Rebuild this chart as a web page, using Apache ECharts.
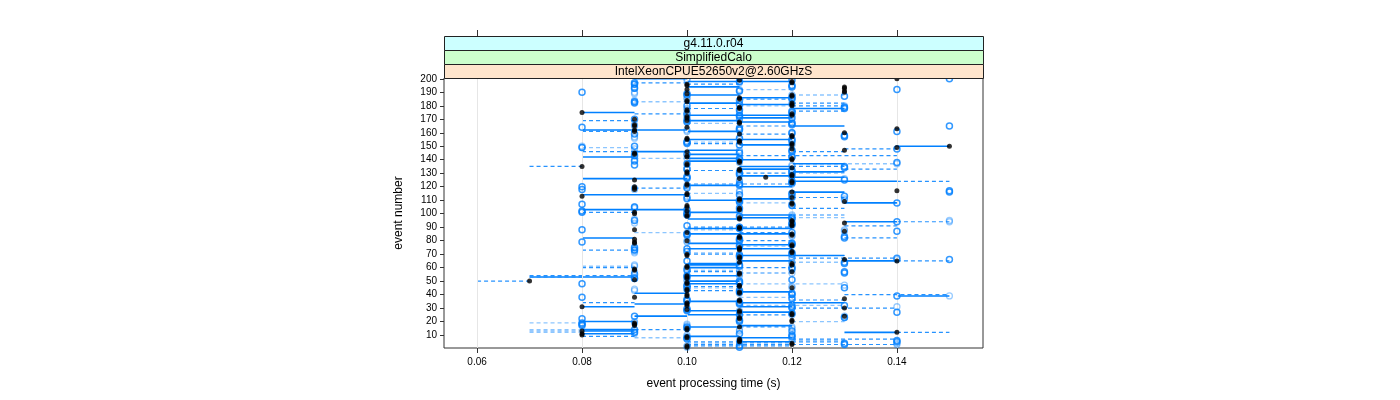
<!DOCTYPE html>
<html><head><meta charset="utf-8">
<script src="https://cdn.jsdelivr.net/npm/echarts@6/dist/echarts.min.js"></script>
<style>html,body{margin:0;padding:0;background:#fff}#c{width:1400px;height:400px}</style>
</head><body><div id="c"></div><script>
const stripLabels = ['g4.11.0.r04', 'SimplifiedCalo', 'IntelXeonCPUE52650v2@2.60GHzS'];
const xTicks = [0.06, 0.08, 0.10, 0.12, 0.14];
const yTicks = [10, 20, 30, 40, 50, 60, 70, 80, 90, 100, 110, 120, 130, 140, 150, 160, 170, 180, 190, 200];

// black filled points, one per event (event 1..200)
const timesBlack = [
0.10,0.10,0.12,0.12,0.11,0.11,0.11,0.10,0.10,0.08,
0.08,0.14,0.08,0.10,0.10,0.11,0.09,0.09,0.09,0.12,
0.12,0.11,0.11,0.13,0.12,0.12,0.11,0.11,0.10,0.13,
0.08,0.10,0.10,0.10,0.11,0.11,0.13,0.09,0.10,0.10,
0.11,0.11,0.10,0.10,0.12,0.11,0.11,0.10,0.10,0.07,
0.09,0.10,0.10,0.10,0.11,0.11,0.12,0.09,0.09,0.10,
0.10,0.12,0.12,0.11,0.14,0.13,0.11,0.11,0.10,0.10,
0.12,0.12,0.11,0.11,0.11,0.12,0.12,0.09,0.09,0.10,
0.09,0.11,0.11,0.12,0.12,0.10,0.13,0.09,0.11,0.11,
0.12,0.12,0.13,0.12,0.12,0.11,0.11,0.10,0.10,0.09,
0.09,0.10,0.11,0.11,0.10,0.10,0.12,0.12,0.13,0.11,
0.11,0.12,0.08,0.10,0.10,0.12,0.14,0.09,0.09,0.09,
0.10,0.10,0.12,0.12,0.09,0.11,0.115,0.12,0.12,0.10,
0.10,0.11,0.11,0.12,0.08,0.10,0.10,0.11,0.11,0.12,
0.12,0.10,0.10,0.09,0.09,0.10,0.13,0.12,0.14,0.15,
0.12,0.12,0.11,0.11,0.10,0.10,0.12,0.12,0.11,0.13,
0.09,0.09,0.14,0.10,0.09,0.09,0.11,0.11,0.10,0.09,
0.10,0.10,0.12,0.12,0.08,0.10,0.10,0.11,0.11,0.12,
0.12,0.12,0.10,0.10,0.11,0.11,0.12,0.12,0.10,0.13,
0.13,0.10,0.13,0.13,0.10,0.10,0.12,0.12,0.11,0.14];

// blue open circles, one per event
const timesBlue = [
0.11,0.11,0.13,0.13,0.14,0.14,0.10,0.10,0.12,0.12,
0.11,0.09,0.12,0.09,0.10,0.10,0.08,0.08,0.08,0.11,
0.11,0.08,0.13,0.09,0.11,0.12,0.14,0.10,0.10,0.12,
0.12,0.13,0.11,0.11,0.10,0.10,0.12,0.08,0.14,0.12,
0.12,0.11,0.11,0.10,0.13,0.10,0.10,0.08,0.11,0.11,
0.12,0.09,0.10,0.10,0.09,0.13,0.13,0.10,0.12,0.12,
0.11,0.11,0.13,0.13,0.10,0.15,0.14,0.11,0.11,0.12,
0.12,0.10,0.09,0.10,0.09,0.11,0.12,0.12,0.08,0.11,
0.11,0.13,0.13,0.10,0.10,0.12,0.14,0.08,0.11,0.11,
0.10,0.12,0.12,0.14,0.09,0.12,0.12,0.11,0.10,0.10,
0.08,0.08,0.10,0.11,0.09,0.12,0.08,0.14,0.11,0.11,
0.10,0.12,0.13,0.11,0.12,0.15,0.15,0.08,0.10,0.08,
0.11,0.11,0.12,0.12,0.13,0.10,0.10,0.12,0.11,0.11,
0.12,0.12,0.10,0.13,0.13,0.09,0.10,0.14,0.09,0.11,
0.11,0.12,0.09,0.10,0.11,0.12,0.12,0.14,0.08,0.09,
0.11,0.10,0.10,0.12,0.12,0.11,0.13,0.13,0.09,0.12,
0.14,0.11,0.11,0.08,0.15,0.12,0.12,0.10,0.10,0.09,
0.12,0.11,0.11,0.10,0.12,0.12,0.11,0.13,0.13,0.10,
0.11,0.09,0.09,0.11,0.12,0.12,0.13,0.10,0.10,0.08,
0.11,0.14,0.09,0.12,0.12,0.09,0.09,0.11,0.12,0.15];

// light blue open circles, one per event
const timesLight = [
0.10,0.10,0.14,0.14,0.11,0.11,0.12,0.12,0.10,0.10,
0.09,0.09,0.11,0.11,0.12,0.12,0.10,0.10,0.09,0.09,
0.11,0.11,0.13,0.13,0.12,0.12,0.11,0.11,0.10,0.10,
0.14,0.12,0.12,0.11,0.11,0.10,0.10,0.12,0.15,0.12,
0.11,0.11,0.09,0.09,0.12,0.12,0.13,0.11,0.11,0.10,
0.10,0.09,0.09,0.11,0.11,0.12,0.09,0.11,0.10,0.10,
0.09,0.09,0.12,0.12,0.11,0.14,0.12,0.12,0.11,0.11,
0.09,0.09,0.09,0.09,0.11,0.11,0.12,0.12,0.10,0.10,
0.11,0.11,0.12,0.12,0.10,0.10,0.13,0.13,0.11,0.11,
0.12,0.12,0.09,0.15,0.15,0.09,0.11,0.12,0.12,0.10,
0.10,0.11,0.11,0.09,0.09,0.12,0.12,0.11,0.11,0.13,
0.13,0.10,0.10,0.12,0.12,0.11,0.11,0.09,0.09,0.10,
0.10,0.12,0.12,0.11,0.11,0.13,0.10,0.10,0.12,0.12,
0.11,0.11,0.10,0.10,0.12,0.12,0.14,0.11,0.11,0.09,
0.10,0.12,0.12,0.09,0.09,0.11,0.11,0.09,0.08,0.08,
0.12,0.12,0.10,0.10,0.11,0.09,0.09,0.13,0.12,0.12,
0.10,0.10,0.11,0.11,0.09,0.09,0.12,0.12,0.11,0.11,
0.10,0.10,0.12,0.12,0.11,0.11,0.10,0.10,0.13,0.13,
0.12,0.12,0.09,0.09,0.10,0.10,0.12,0.12,0.09,0.09,
0.11,0.11,0.09,0.09,0.12,0.09,0.11,0.11,0.10,0.10];

// solid horizontal links: event, from time, to time
const solidEvent = [5,11,12,13,14,17,20,24,25,27,31,33,34,39,41,42,48,50,53,54,60,62,65,69,74,77,82,85,89,94,97,101,103,108,111,114,121,124,126,128,131,133,137,141,142,146,147,150,155,161,162,165,171,173,175,178,182,186,194,198,200,
  169,144,139,110,188,181,168,151,140,135,120,127,116,96,78,74,63,35,28,16,9,99,65,34,31,8];
const solidFrom  = [0.11,0.08,0.13,0.08,0.08,0.11,0.08,0.09,0.10,0.11,0.08,0.09,0.12,0.14,0.09,0.11,0.10,0.10,0.07,0.10,0.10,0.10,0.13,0.11,0.11,0.11,0.08,0.10,0.10,0.13,0.11,0.10,0.08,0.13,0.11,0.08,0.10,0.12,0.08,0.11,0.12,0.11,0.12,0.10,0.08,0.09,0.10,0.14,0.10,0.10,0.08,0.12,0.11,0.10,0.08,0.12,0.10,0.11,0.10,0.10,0.09,
  0.10,0.10,0.10,0.10,0.10,0.11,0.11,0.11,0.11,0.11,0.11,0.12,0.12,0.10,0.10,0.10,0.10,0.10,0.10,0.10,0.10,0.11,0.11,0.11,0.11,0.11];
const solidTo    = [0.12,0.09,0.14,0.09,0.09,0.12,0.09,0.10,0.11,0.12,0.09,0.10,0.13,0.15,0.10,0.12,0.11,0.11,0.09,0.11,0.11,0.11,0.14,0.13,0.12,0.12,0.09,0.12,0.12,0.14,0.12,0.11,0.10,0.14,0.12,0.10,0.11,0.14,0.10,0.12,0.13,0.12,0.13,0.11,0.09,0.10,0.11,0.15,0.12,0.11,0.10,0.13,0.12,0.12,0.09,0.13,0.11,0.12,0.11,0.12,0.10,
  0.11,0.11,0.11,0.11,0.11,0.12,0.12,0.12,0.12,0.12,0.12,0.13,0.13,0.11,0.11,0.11,0.11,0.11,0.11,0.11,0.11,0.12,0.12,0.12,0.12,0.12];

// dashed horizontal links
const dashEvent = [2,3,5,7,9,12,14,16,25,30,34,36,40,43,50,54,56,60,65,67,69,73,80,82,90,91,94,99,101,104,112,119,122,124,133,135,143,146,148,159,161,169,174,176,182,196,197,
  152,132,178,185,165,130,180,135,146,70,57,46,86,60];
const dashFrom  = [0.10,0.10,0.10,0.12,0.08,0.14,0.09,0.11,0.11,0.12,0.08,0.12,0.13,0.10,0.06,0.07,0.11,0.08,0.14,0.12,0.12,0.08,0.11,0.13,0.10,0.13,0.14,0.12,0.08,0.12,0.12,0.09,0.10,0.14,0.13,0.07,0.11,0.08,0.13,0.11,0.08,0.08,0.09,0.12,0.12,0.10,0.09,
  0.10,0.10,0.10,0.11,0.11,0.11,0.12,0.12,0.12,0.10,0.10,0.10,0.11,0.11];
const dashTo    = [0.12,0.14,0.13,0.14,0.09,0.15,0.10,0.12,0.12,0.14,0.09,0.13,0.15,0.11,0.07,0.09,0.12,0.09,0.15,0.14,0.13,0.09,0.12,0.14,0.12,0.14,0.15,0.13,0.09,0.13,0.13,0.10,0.12,0.15,0.14,0.08,0.14,0.09,0.14,0.12,0.09,0.09,0.10,0.13,0.13,0.11,0.10,
  0.11,0.11,0.11,0.12,0.12,0.12,0.13,0.13,0.13,0.11,0.11,0.11,0.12,0.12];

// light dashed horizontal links
const lightEvent = [4,6,8,12,13,14,19,20,32,38,45,48,53,58,61,64,71,76,86,88,97,108,115,130,137,141,149,153,167,180,183,188,192];
const lightFrom  = [0.10,0.12,0.09,0.07,0.07,0.07,0.07,0.12,0.11,0.11,0.10,0.11,0.07,0.10,0.08,0.12,0.10,0.11,0.09,0.10,0.12,0.11,0.10,0.12,0.12,0.09,0.08,0.10,0.10,0.11,0.09,0.12,0.11];
const lightTo    = [0.12,0.13,0.10,0.08,0.08,0.08,0.08,0.13,0.13,0.12,0.11,0.13,0.08,0.11,0.09,0.13,0.11,0.12,0.10,0.11,0.13,0.12,0.11,0.13,0.14,0.10,0.09,0.11,0.11,0.12,0.10,0.13,0.12];

const events = timesBlack.map((_, i) => i + 1);
function pairs(times) { return times.map((t, i) => [t, events[i]]); }

const FONT = '"Liberation Sans", Arial, Helvetica, sans-serif';
const PL = 444, PT = 78, PW = 539, PH = 270;
const stripColors = ['#ccffff', '#ccffcc', '#ffe5cc'];
const stripTop = 36, stripH = 14;

const graphics = [];
stripLabels.forEach((lab, i) => {
  const y = stripTop + i * stripH;
  graphics.push({
    type: 'rect', z: 100,
    shape: { x: PL + 0.5, y: y + 0.5, width: PW, height: stripH },
    style: { fill: stripColors[i], stroke: '#222', lineWidth: 1 }
  });
  graphics.push({
    type: 'text', z: 101, x: PL + PW / 2, y: y + stripH / 2 + 1,
    style: { text: lab, font: '12px ' + FONT, fill: '#000', align: 'center', verticalAlign: 'middle' }
  });
});

const chart = echarts.init(document.getElementById('c'), null, { renderer: 'canvas' });

function segSeries(evt, from, to, style, z) {
  return {
    type: 'custom', z: z, silent: true, animation: false,
    data: evt.map((e, i) => [from[i], to[i], e]),
    encode: { x: [0, 1], y: 2 },
    renderItem: function (params, api) {
      const p1 = api.coord([api.value(0), api.value(2)]);
      const p2 = api.coord([api.value(1), api.value(2)]);
      return { type: 'line', shape: { x1: p1[0], y1: p1[1], x2: p2[0], y2: p2[1] }, style: Object.assign({}, style) };
    }
  };
}
function pointSeries(times, itemStyle, size, z) {
  return { type: 'scatter', data: pairs(times), symbol: 'circle', symbolSize: size,
    itemStyle: itemStyle, z: z, silent: true, animation: false };
}

chart.setOption({
  animation: false,
  backgroundColor: '#fff',
  grid: { left: PL, top: PT, width: PW, height: PH, show: true, borderColor: '#333', borderWidth: 1, backgroundColor: 'transparent' },
  xAxis: [{
    type: 'value', min: 0.0537, max: 0.1564, position: 'bottom',
    axisLine: { show: false },
    axisTick: { show: true, customValues: xTicks, length: 5, lineStyle: { color: '#333' } },
    axisLabel: { customValues: xTicks, formatter: v => v.toFixed(2), fontSize: 10, color: '#000', margin: 9, fontFamily: FONT },
    splitLine: { show: false },
    name: 'event processing time (s)', nameLocation: 'middle', nameGap: 30,
    nameTextStyle: { fontSize: 12, color: '#000', fontFamily: FONT }
  }, {
    type: 'value', min: 0.0537, max: 0.1564, position: 'top', offset: PT - stripTop,
    axisLine: { show: false },
    axisTick: { show: true, customValues: xTicks, length: 6, lineStyle: { color: '#333' } },
    axisLabel: { show: false },
    splitLine: { show: false }
  }],
  yAxis: {
    type: 'value', min: 0.4, max: 200.6,
    axisLine: { show: false },
    axisTick: { show: true, customValues: yTicks, length: 4, lineStyle: { color: '#333' } },
    axisLabel: { customValues: yTicks, fontSize: 10, color: '#000', margin: 7, fontFamily: FONT },
    splitLine: { show: false },
    name: 'event number', nameLocation: 'middle', nameGap: 39, nameRotate: 90,
    nameTextStyle: { fontSize: 12, color: '#000', fontFamily: FONT }
  },
  graphic: graphics,
  series: [
    { type: 'line', data: [], z: 1, silent: true,
      markLine: { silent: true, symbol: 'none', label: { show: false }, animation: false,
        lineStyle: { color: '#e6e6e6', type: 'solid', width: 1 },
        data: xTicks.map(v => ({ xAxis: v })) } },
    segSeries(lightEvent, lightFrom, lightTo, { stroke: 'rgba(0,128,255,0.45)', lineWidth: 1.3, lineDash: [4, 3] }, 2),
    segSeries(dashEvent, dashFrom, dashTo, { stroke: 'rgba(0,128,255,0.85)', lineWidth: 1.2, lineDash: [4, 3] }, 3),
    segSeries(solidEvent, solidFrom, solidTo, { stroke: '#0080ff', lineWidth: 1.6 }, 4),
    pointSeries(timesLight, { color: 'transparent', borderColor: 'rgba(0,128,255,0.5)', borderWidth: 1.3 }, 6, 5),
    pointSeries(timesBlue, { color: 'transparent', borderColor: '#0080ff', borderWidth: 1.5 }, 6, 6),
    pointSeries(timesBlack, { color: '#000' }, 5, 7)
  ]
});
</script></body></html>
